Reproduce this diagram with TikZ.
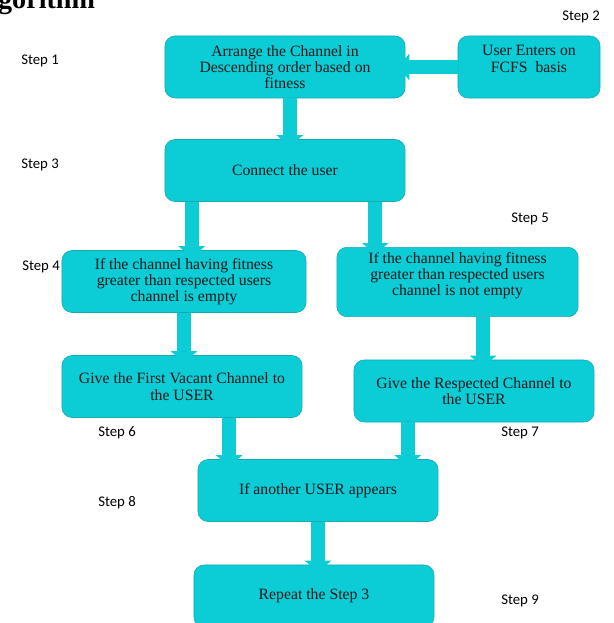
\documentclass[tikz,border=0pt]{standalone}
\usepackage{fontspec}
\setmainfont{Liberation Serif}
\newfontfamily\stepfont{Carlito}
\usetikzlibrary{arrows.meta, calc}
\definecolor{boxcyan}{RGB}{12,204,214}
\definecolor{boxedge}{RGB}{22,170,180}

\begin{document}
\begin{tikzpicture}[x=0.025cm, y=-0.025cm,
    stepbox/.style={draw=boxedge, fill=boxcyan, rounded corners=0.25cm, minimum width=6cm,
        minimum height=1.55cm, align=center, font=\fontsize{11.2}{11.6}\selectfont, text=black!90},
    steplabel/.style={font=\stepfont\fontsize{10.5}{12}\selectfont},
    fatarrow/.style={boxcyan, line width=0.35cm, -{Triangle[width=0.65cm,length=0.28cm]}, shorten >=-0.18cm}]

        \useasboundingbox (0,0) rectangle (613,623);

        \node[font=\fontsize{20}{24}\selectfont\bfseries, anchor=base east] (heading) at (100,9) {Algorithm};

        \node[stepbox] (arrange) at (285,67) {Arrange the Channel in\\Descending order based on\\fitness};
        \node[stepbox, minimum width=3.55cm] (user) at (529,67) {User Enters on\\FCFS~~basis\\\mbox{}};
        \node[stepbox] (connect) at (285,170.5) {Connect the user};
        \node[stepbox, minimum width=6.1cm] (left) at (184,281.5) {If the channel having fitness\\greater than respected users\\channel is empty};
        \node[stepbox, minimum width=6.03cm] (right) at (457.5,282) {If the channel having fitness\\greater than respected users\\channel is not empty\\\mbox{}};
        \node[stepbox] (first) at (182,386.5) {Give the First Vacant Channel to\\the USER};
        \node[stepbox] (resp) at (474,391) {Give the Respected Channel to\\the USER};
        \node[stepbox] (another) at (318,490.5) {If another USER appears};
        \node[stepbox] (repeat) at (314,596) {Repeat the Step 3};

        \node[steplabel] (step1) at (40,61) {Step 1};
        \node[steplabel] (step2) at (581,17) {Step 2};
        \node[steplabel] (step3) at (40,165) {Step 3};
        \node[steplabel] (step4) at (41,267) {Step 4};
        \node[steplabel] (step5) at (530,219) {Step 5};
        \node[steplabel] (step6) at (117,433) {Step 6};
        \node[steplabel] (step7) at (520,433) {Step 7};
        \node[steplabel] (step8) at (117,503) {Step 8};
        \node[steplabel] (step9) at (520,601) {Step 9};

        \draw[fatarrow] (user.west) -- (arrange.east);
        \foreach \from/\pos/\to in
        {arrange/0.52/connect, connect/0.1125/left, connect/0.875/right, left/0.5/first,
         right/0.606/resp, first/0.696/another, resp/0.225/another, another/0.5/repeat}
        \draw[fatarrow] ($(\from.south west)!\pos!(\from.south east)$) coordinate (s) -- (s |- \to.north);
\end{tikzpicture}
\end{document}
